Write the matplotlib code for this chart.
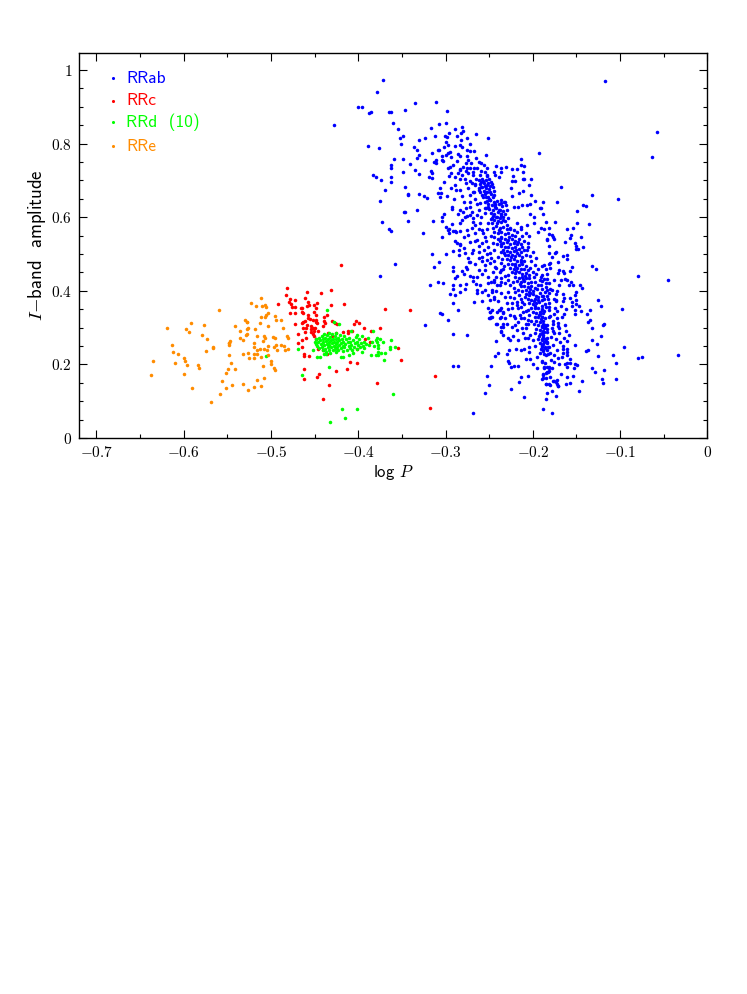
import numpy as np
import matplotlib
matplotlib.use('Agg')
import matplotlib.pyplot as plt

plt.rcParams['mathtext.fontset'] = 'cm'
plt.rcParams['font.family'] = ['cmss10', 'DejaVu Sans']
plt.rcParams['axes.unicode_minus'] = False

x_ticks = [-0.7, -0.6, -0.5, -0.4, -0.3, -0.2, -0.1, 0]
x_tick_labels = ['$-0.7$', '$-0.6$', '$-0.5$', '$-0.4$', '$-0.3$', '$-0.2$', '$-0.1$', '$0$']
y_ticks = [0, 0.2, 0.4, 0.6, 0.8, 1]
y_tick_labels = ['$0$', '$0.2$', '$0.4$', '$0.6$', '$0.8$', '$1$']

names = ['RRab', 'RRc', 'RRd  (10)', 'RRe']
colors = ['#0000ff', '#ff0000', '#00ff00', '#ff8c00']

# (log P, amplitude)
rrab = [
 (-.428,.851),(-.400,.899),(-.396,.899),(-.388,.883),(-.389,.794),(-.383,.715),(-.117,.970),(-.058,.832),
 (-.372,.973),(-.379,.941),(-.385,.885),(-.365,.887),(-.362,.887),(-.347,.892),(-.335,.909),(-.311,.912),
 (-.298,.888),(-.360,.855),(-.355,.840),(-.349,.822),(-.352,.814),(-.351,.800),(-.376,.787),(-.331,.811),
 (-.323,.814),(-.317,.842),(-.308,.854),(-.299,.857),(-.312,.820),(-.301,.822),(-.298,.819),(-.296,.830),
 (-.289,.840),(-.281,.845),(-.280,.834),(-.282,.828),(-.287,.821),(-.265,.827),(-.251,.814),(-.276,.814),
 (-.282,.811),(-.299,.803),(-.297,.796),(-.272,.799),(-.289,.793),(-.336,.792),(-.333,.782),(-.331,.768),
 (-.333,.762),(-.359,.757),(-.349,.757),(-.363,.742),(-.363,.734),(-.341,.744),(-.324,.755),(-.315,.775),
 (-.309,.782),(-.308,.782),(-.302,.790),(-.295,.777),(-.297,.775),(-.300,.769),(-.304,.767),(-.294,.763),
 (-.286,.771),(-.284,.766),(-.275,.767),(-.283,.796),(-.281,.790),(-.276,.782),(-.272,.781),(-.267,.780),
 (-.254,.770),(-.311,.755),(-.313,.751),(-.311,.746),(-.304,.755),(-.303,.753),(-.274,.755),(-.271,.746),
 (-.280,.737),(-.276,.735),(-.272,.733),(-.267,.735),(-.264,.733),(-.262,.751),(-.259,.748),(-.256,.742),
 (-.253,.733),(-.255,.723),(-.297,.735),(-.295,.737),(-.284,.730),(-.283,.728),(-.349,.723),(-.335,.727),
 (-.331,.718),(-.317,.725),(-.316,.719),(-.380,.710),(-.374,.700),(-.363,.708),(-.363,.695),(-.319,.708),
 (-.316,.707),(-.294,.719),(-.296,.713),(-.286,.719),(-.281,.714),(-.274,.719),(-.268,.714),(-.260,.714),
 (-.253,.714),(-.242,.739),(-.236,.735),(-.231,.737),(-.224,.730),(-.218,.730),(-.214,.759),(-.213,.742),
 (-.210,.740),(-.245,.723),(-.243,.714),(-.239,.710),(-.236,.722),(-.223,.713),(-.211,.723),(-.202,.705),
 (-.211,.705),(-.210,.704),(-.224,.699),(-.220,.699),(-.302,.696),(-.283,.705),(-.278,.703),(-.272,.699),
 (-.270,.692),(-.266,.687),(-.257,.699),(-.251,.694),(-.347,.683),(-.369,.675),(-.343,.663),(-.343,.660),
 (-.331,.662),(-.325,.658),(-.321,.653),(-.375,.643),(-.306,.679),(-.309,.667),(-.305,.667),(-.294,.680),
 (-.288,.675),(-.283,.675),(-.306,.654),(-.298,.657),(-.274,.678),(-.268,.669),(-.262,.678),(-.259,.683),
 (-.255,.685),(-.249,.685),(-.260,.669),(-.255,.669),(-.249,.669),(-.257,.656),(-.251,.656),(-.245,.660),
 (-.225,.678),(-.224,.657),(-.216,.667),(-.211,.672),(-.204,.687),(-.202,.660),(-.198,.644),(-.281,.658),
 (-.272,.660),(-.272,.642),(-.264,.637),(-.260,.639),(-.255,.642),(-.249,.646),(-.243,.637),(-.237,.639),
 (-.232,.642),(-.222,.628),(-.217,.628),(-.212,.632),(-.207,.633),(-.203,.635),(-.293,.628),(-.293,.622),
 (-.283,.619),(-.272,.628),(-.262,.619),(-.255,.624),(-.348,.613),(-.333,.619),(-.343,.589),(-.373,.587),
 (-.365,.569),(-.363,.562),(-.326,.558),(-.314,.589),(-.304,.546),(-.304,.601),(-.302,.610),(-.304,.590),
 (-.299,.574),(-.297,.565),(-.293,.581),(-.284,.583),(-.281,.592),(-.275,.603),(-.272,.606),(-.286,.608),
 (-.280,.615),(-.264,.606),(-.259,.601),(-.266,.578),(-.276,.565),(-.289,.563),(-.283,.563),(-.279,.547),
 (-.272,.533),(-.287,.530),(-.283,.524),(-.264,.538),(-.257,.556),(-.253,.569),(-.247,.583),(-.241,.601),
 (-.239,.619),(-.236,.610),(-.234,.592),(-.230,.578),(-.226,.569),(-.218,.583),(-.213,.574),(-.207,.578),
 (-.199,.583),(-.192,.624),(-.194,.560),(-.203,.610),(-.199,.601),(-.193,.775),
 # upper clump
 (-.253,.645),(-.249,.648),(-.245,.640),(-.241,.645),(-.237,.648),(-.233,.640),(-.251,.635),(-.247,.632),
 (-.243,.634),(-.239,.636),(-.235,.630),(-.231,.632),(-.254,.625),(-.250,.622),(-.246,.620),(-.242,.624),
 (-.238,.620),(-.234,.618),(-.230,.620),(-.248,.612),(-.244,.610),(-.240,.614),(-.236,.608),(-.232,.610),
 (-.246,.602),(-.242,.600),(-.238,.598),(-.234,.600),(-.244,.592),(-.240,.590),(-.236,.586),(-.232,.590),
 (-.228,.598),(-.248,.596),(-.262,.700),(-.258,.705),(-.254,.702),(-.250,.705),(-.260,.690),(-.256,.692),
 (-.252,.688),(-.248,.695),(-.258,.682),(-.254,.680),(-.250,.676),(-.246,.682),(-.256,.670),(-.252,.668),
 (-.248,.664),(-.244,.670),(-.258,.660),(-.254,.655),(-.250,.650),(-.246,.655),(-.262,.675),(-.266,.690),
 # middle
 (-.246,.572),(-.242,.576),(-.238,.570),(-.234,.574),(-.230,.568),(-.226,.572),(-.222,.565),(-.218,.560),
 (-.214,.568),(-.244,.560),(-.240,.556),(-.236,.560),(-.232,.554),(-.228,.558),(-.224,.552),(-.220,.550),
 (-.248,.550),(-.244,.545),(-.240,.540),(-.236,.545),(-.232,.542),(-.228,.538),(-.224,.540),(-.220,.535),
 (-.216,.542),(-.212,.548),(-.208,.556),(-.204,.550),(-.210,.535),(-.206,.530),(-.238,.534),(-.234,.530),
 (-.230,.532),(-.226,.528),(-.222,.530),(-.218,.526),(-.214,.528),(-.236,.522),(-.232,.518),(-.228,.520),
 (-.224,.516),(-.220,.518),(-.216,.514),(-.212,.518),(-.234,.510),(-.230,.508),(-.226,.506),(-.222,.508),
 (-.218,.504),(-.214,.506),(-.210,.510),(-.232,.498),(-.228,.496),(-.224,.498),(-.220,.494),(-.216,.496),
 (-.212,.492),(-.208,.498),(-.230,.486),(-.226,.484),(-.222,.486),(-.218,.482),(-.214,.484),(-.210,.480),
 (-.228,.474),(-.224,.472),(-.220,.474),(-.216,.470),(-.212,.472),(-.208,.468),(-.226,.462),(-.222,.460),
 (-.218,.462),(-.214,.458),(-.210,.460),(-.206,.456),(-.224,.450),(-.220,.448),(-.216,.450),(-.212,.446),
 (-.208,.448),(-.204,.444),(-.220,.438),(-.216,.436),(-.212,.438),(-.208,.434),(-.204,.436),(-.218,.426),
 (-.214,.424),(-.210,.426),(-.206,.422),(-.202,.424),
 # lower spine
 (-.214,.412),(-.210,.414),(-.206,.410),(-.202,.412),(-.198,.408),(-.212,.400),(-.208,.402),(-.204,.398),
 (-.200,.400),(-.208,.390),(-.204,.388),(-.200,.390),(-.196,.386),(-.206,.378),(-.202,.376),(-.198,.378),
 (-.194,.374),(-.204,.366),(-.200,.364),(-.196,.366),(-.202,.354),(-.198,.352),(-.194,.354),(-.190,.350),
 (-.200,.342),(-.196,.340),(-.192,.342),(-.198,.330),(-.194,.328),(-.190,.330),(-.196,.318),(-.192,.316),
 (-.188,.318),(-.194,.306),(-.190,.304),(-.186,.306),(-.196,.296),(-.192,.294),(-.188,.292),(-.184,.296),
 (-.192,.282),(-.188,.280),(-.194,.270),(-.190,.268),(-.186,.270),(-.192,.258),(-.188,.256),(-.184,.258),
 (-.190,.246),(-.186,.244),(-.182,.246),(-.188,.236),(-.192,.232),(-.185,.225),
 (-.205,.520),(-.200,.505),(-.196,.490),(-.202,.480),(-.198,.470),(-.194,.460),(-.200,.452),(-.196,.445),
 (-.192,.430),(-.198,.425),(-.194,.415),(-.190,.405),(-.192,.395),(-.188,.385),(-.190,.375),(-.194,.382),
 (-.186,.365),(-.190,.358),(-.262,.490),(-.258,.480),(-.252,.500),(-.248,.490),(-.244,.480),(-.240,.492),
 (-.236,.476),(-.242,.462),(-.246,.452),(-.238,.450),(-.234,.458),(-.232,.440),(-.228,.430),(-.236,.436),
 (-.242,.438),(-.226,.416),(-.222,.408),(-.220,.396),(-.216,.388),(-.222,.380),(-.218,.370),(-.214,.378),
 (-.210,.365),(-.214,.355),(-.208,.345),(-.204,.335),(-.210,.325),(-.206,.322),(-.202,.318),(-.208,.310),
 # left side
 (-.347,.613),(-.296,.568),(-.296,.556),(-.288,.561),(-.291,.563),(-.289,.534),(-.283,.526),(-.291,.509),
 (-.315,.501),(-.300,.500),(-.307,.478),(-.313,.466),(-.358,.472),(-.375,.440),(-.292,.465),(-.292,.454),
 (-.289,.436),(-.287,.440),(-.281,.455),(-.279,.447),(-.277,.466),(-.276,.458),(-.273,.479),(-.272,.479),
 (-.285,.511),(-.279,.515),(-.285,.497),(-.278,.502),(-.318,.417),(-.309,.425),(-.303,.420),(-.292,.416),
 (-.292,.404),(-.284,.415),(-.277,.418),(-.278,.405),(-.295,.391),(-.289,.389),(-.284,.396),(-.291,.367),
 (-.286,.349),(-.306,.341),(-.304,.338),(-.297,.320),(-.323,.307),(-.292,.282),(-.275,.280),(-.267,.369),
 (-.258,.373),(-.268,.438),(-.264,.437),(-.268,.427),(-.265,.418),(-.264,.393),(-.264,.402),(-.258,.398),
 (-.255,.402),(-.251,.389),(-.247,.402),(-.245,.379),(-.251,.352),(-.249,.343),(-.247,.330),(-.249,.327),
 (-.239,.348),(-.236,.352),(-.237,.330),(-.234,.339),(-.234,.311),(-.242,.311),(-.236,.302),(-.237,.289),
 (-.234,.280),(-.262,.456),(-.255,.456),(-.251,.438),(-.245,.429),(-.241,.416),(-.237,.425),(-.270,.502),
 (-.262,.506),(-.258,.493),(-.253,.484),(-.255,.470),(-.249,.475),(-.243,.466),(-.237,.456),(-.266,.534),
 (-.258,.529),(-.251,.520),(-.245,.511),(-.249,.502),(-.266,.556),(-.258,.565),(-.251,.583),(-.255,.547),
 (-.268,.588),(-.260,.583),(-.278,.601),(-.270,.615),(-.255,.611),(-.247,.597),(-.239,.565),(-.237,.543),
 (-.274,.552),
 # bottom
 (-.268,.067),(-.188,.080),(-.178,.067),(-.255,.123),(-.225,.132),(-.210,.112),(-.250,.145),(-.252,.168),
 (-.292,.195),(-.286,.195),(-.248,.195),(-.216,.151),(-.214,.166),(-.205,.168),(-.185,.105),(-.184,.121),
 (-.178,.128),(-.174,.115),(-.185,.147),(-.181,.146),(-.177,.156),(-.173,.153),(-.171,.142),(-.188,.162),
 (-.188,.173),(-.185,.176),(-.183,.180),(-.187,.191),(-.182,.192),(-.147,.128),(-.229,.210),(-.225,.194),
 (-.222,.196),(-.217,.195),(-.227,.203),(-.200,.201),(-.208,.216),(-.203,.216),(-.195,.221),(-.190,.207),
 (-.243,.224),(-.240,.232),(-.230,.228),(-.227,.239),(-.219,.243),(-.213,.239),(-.210,.243),(-.204,.248),
 (-.242,.263),(-.228,.271),(-.226,.266),(-.223,.277),(-.217,.266),(-.234,.301),(-.237,.292),(-.230,.311),
 (-.224,.301),(-.218,.293),(-.209,.271),(-.205,.273),(-.203,.280),(-.197,.284),(-.211,.284),(-.208,.298),
 (-.206,.311),(-.250,.327),(-.248,.328),(-.241,.311),(-.238,.325),(-.232,.325),(-.226,.334),(-.220,.325),
 (-.217,.316),(-.213,.325),(-.215,.334),(-.211,.343),(-.217,.352),(-.249,.343),(-.247,.348),(-.241,.343),
 (-.238,.349),(-.234,.343),(-.224,.352),(-.218,.361),(-.212,.370),(-.232,.384),(-.226,.384),(-.224,.366),
 (-.236,.393),(-.245,.384),(-.249,.375),(-.247,.398),(-.251,.420),(-.245,.425),(-.238,.416),(-.232,.420),
 (-.228,.398),
 # right side
 (-.064,.763),(-.168,.682),(-.132,.661),(-.102,.650),(-.172,.641),(-.188,.641),(-.143,.634),(-.139,.631),
 (-.149,.617),(-.191,.625),(-.188,.610),(-.175,.588),(-.185,.588),(-.149,.583),(-.136,.581),(-.154,.572),
 (-.161,.568),(-.181,.570),(-.187,.569),(-.191,.572),(-.182,.554),(-.178,.552),(-.176,.540),(-.177,.545),
 (-.184,.542),(-.184,.538),(-.156,.551),(-.158,.544),(-.145,.545),(-.163,.533),(-.152,.530),(-.150,.522),
 (-.150,.514),(-.148,.513),(-.142,.519),(-.181,.522),(-.181,.502),(-.175,.504),(-.173,.506),(-.178,.491),
 (-.165,.494),(-.161,.496),(-.161,.486),(-.171,.477),(-.132,.468),(-.128,.458),(-.155,.465),(-.158,.454),
 (-.170,.456),(-.165,.455),(-.164,.449),(-.171,.448),(-.180,.476),(-.181,.473),(-.180,.463),(-.185,.458),
 (-.187,.470),(-.189,.467),(-.184,.446),(-.189,.443),(-.191,.438),(-.080,.439),(-.045,.428),(-.184,.431),
 (-.187,.431),(-.189,.427),(-.185,.420),(-.182,.420),(-.191,.416),(-.168,.430),(-.163,.431),(-.161,.429),
 (-.156,.424),(-.159,.417),(-.154,.415),(-.146,.416),(-.144,.407),(-.180,.406),(-.185,.411),(-.184,.402),
 (-.181,.395),(-.186,.398),(-.189,.387),(-.184,.387),(-.187,.379),(-.183,.379),(-.166,.390),(-.164,.381),
 (-.165,.373),(-.150,.397),(-.152,.388),(-.150,.376),(-.176,.379),(-.174,.376),(-.173,.372),(-.155,.369),
 (-.155,.360),(-.150,.363),(-.147,.359),(-.125,.374),(-.122,.360),(-.098,.351),(-.181,.366),(-.181,.357),
 (-.185,.357),(-.175,.354),(-.182,.349),(-.162,.350),(-.135,.347),(-.145,.346),(-.152,.349),(-.152,.338),
 (-.164,.338),(-.167,.330),(-.176,.336),(-.180,.332),(-.182,.330),(-.186,.325),(-.190,.348),(-.188,.339),
 (-.190,.330),(-.192,.337),(-.138,.338),(-.137,.316),(-.134,.320),(-.132,.298),(-.120,.308),(-.118,.311),
 (-.172,.327),(-.171,.313),(-.171,.305),(-.177,.319),(-.177,.311),(-.163,.306),(-.188,.311),(-.186,.302),
 (-.190,.302),(-.184,.307),(-.170,.298),(-.177,.292),(-.170,.286),(-.162,.290),(-.159,.279),(-.176,.284),
 (-.179,.275),(-.122,.276),(-.132,.265),(-.127,.255),(-.164,.272),(-.169,.260),(-.161,.263),(-.165,.251),
 (-.165,.243),(-.152,.252),(-.177,.253),(-.184,.289),(-.190,.284),(-.188,.275),(-.184,.271),(-.190,.266),
 (-.187,.262),(-.184,.262),(-.190,.253),(-.186,.248),(-.183,.248),(-.191,.242),(-.188,.239),(-.184,.239),
 (-.180,.230),(-.187,.228),(-.183,.228),(-.161,.242),(-.161,.233),(-.161,.225),(-.165,.230),(-.167,.219),
 (-.171,.218),(-.137,.239),(-.139,.237),(-.095,.246),(-.108,.226),(-.125,.224),(-.034,.226),(-.075,.221),
 (-.080,.218),(-.105,.203),(-.119,.186),(-.129,.178),(-.132,.191),(-.158,.216),(-.158,.203),(-.161,.205),
 (-.163,.200),(-.161,.193),(-.153,.190),(-.152,.201),(-.149,.198),(-.179,.212),(-.176,.206),(-.186,.205),
 (-.190,.209),(-.187,.194),(-.184,.192),(-.181,.189),(-.181,.183),(-.184,.178),(-.188,.171),(-.185,.164),
 (-.189,.161),(-.180,.165),(-.161,.166),(-.154,.169),(-.144,.154),(-.121,.159),(-.120,.150),(-.105,.160),
 (-.176,.156),(-.172,.157),(-.172,.148),(-.185,.146),(-.180,.144),(-.171,.141),(-.162,.148),(-.158,.149),
 # filling the densest parts
 (-.237,.527),(-.219,.511),(-.225,.491),(-.213,.477),(-.219,.455),(-.209,.441),(-.215,.419),(-.203,.405),
 (-.209,.383),(-.199,.371),(-.205,.349),(-.193,.335),(-.199,.311),(-.187,.299),(-.193,.277),(-.185,.263),
 (-.233,.503),(-.221,.467),(-.211,.431),(-.203,.393),(-.197,.359),(-.191,.323),(-.187,.287),(-.189,.251),
 (-.243,.627),(-.237,.603),(-.251,.627),(-.241,.583),(-.255,.663),(-.247,.689),(-.259,.697),(-.253,.711),
 (-.227,.545),(-.217,.533),(-.241,.528),(-.207,.512),(-.237,.505),(-.203,.494),(-.235,.487),(-.203,.462),
 (-.233,.467),(-.199,.437),(-.229,.444),(-.195,.404),(-.223,.423),(-.193,.369),(-.217,.403),(-.187,.344),
 (-.277,.748),(-.265,.762),(-.287,.752),(-.291,.742),(-.269,.724),(-.277,.726),(-.259,.726),(-.289,.708),
 (-.265,.705),(-.277,.692),(-.289,.688),(-.267,.668),(-.279,.640),(-.266,.650),(-.290,.650),(-.277,.625),
 (-.268,.598),(-.262,.568),(-.270,.570),(-.262,.522),(-.254,.534),(-.268,.512),(-.246,.530),(-.256,.510),
 (-.274,.488),(-.266,.472),(-.258,.445),(-.248,.424),(-.272,.440),(-.260,.415),(-.242,.400),(-.240,.372),
 (-.230,.366),(-.228,.350),(-.222,.332),(-.220,.308),(-.212,.300),(-.200,.266),(-.198,.250),(-.204,.235),
 (-.172,.400),(-.170,.415),(-.176,.428),(-.168,.360),(-.172,.345),(-.178,.402),(-.174,.392),(-.158,.380),
 (-.178,.300),(-.174,.270),(-.172,.240),(-.176,.225),(-.170,.200),(-.178,.190),(-.168,.175),(-.195,.190),
]

rrc = [
 (-.420,.470),(-.482,.407),(-.483,.388),(-.459,.398),(-.443,.393),(-.431,.401),(-.461,.380),(-.478,.379),
 (-.472,.375),(-.479,.370),(-.458,.369),(-.492,.363),(-.477,.364),(-.476,.355),(-.473,.355),(-.459,.360),
 (-.457,.361),(-.451,.362),(-.447,.367),(-.431,.361),(-.416,.363),(-.449,.353),(-.466,.352),(-.465,.352),
 (-.369,.350),(-.341,.349),(-.451,.343),(-.478,.341),(-.472,.340),(-.464,.342),(-.463,.341),(-.449,.334),
 (-.458,.333),(-.436,.333),(-.439,.330),(-.458,.327),(-.455,.324),(-.452,.322),(-.449,.322),(-.461,.318),
 (-.463,.314),(-.465,.312),(-.473,.311),(-.449,.315),(-.447,.312),(-.439,.317),(-.438,.312),(-.430,.317),
 (-.424,.311),(-.427,.313),(-.403,.319),(-.399,.312),(-.405,.309),(-.459,.307),(-.463,.300),(-.460,.300),
 (-.454,.305),(-.452,.300),(-.454,.295),(-.450,.298),(-.461,.289),(-.454,.289),(-.451,.292),(-.452,.283),
 (-.451,.277),(-.469,.282),(-.460,.273),(-.464,.266),(-.469,.257),(-.448,.269),(-.464,.246),(-.446,.290),
 (-.441,.303),(-.435,.284),(-.394,.298),(-.386,.291),(-.375,.300),(-.412,.292),(-.417,.287),(-.412,.286),
 (-.407,.291),(-.425,.284),(-.430,.277),(-.392,.268),(-.387,.260),(-.401,.243),(-.355,.244),(-.351,.212),
 (-.462,.227),(-.462,.222),(-.456,.224),(-.409,.206),(-.401,.204),(-.462,.188),(-.425,.183),(-.413,.187),
 (-.445,.173),(-.447,.166),(-.462,.159),(-.433,.145),(-.378,.149),(-.312,.169),(-.440,.105),(-.318,.081),
 (-.446,.241),(-.440,.239),(-.436,.228),(-.425,.244),
]

rrd = [
 (-.436,.348),(-.428,.314),(-.422,.309),(-.408,.291),(-.383,.291),(-.402,.279),(-.396,.276),(-.389,.273),
 (-.379,.271),(-.375,.269),(-.362,.265),(-.372,.260),(-.380,.265),(-.378,.260),(-.388,.252),(-.364,.246),
 (-.364,.241),(-.358,.246),(-.393,.244),(-.396,.234),(-.386,.226),(-.369,.231),(-.380,.226),(-.377,.225),
 (-.377,.234),(-.374,.231),(-.377,.244),(-.377,.253),(-.370,.212),(-.469,.241),(-.452,.238),(-.447,.221),
 (-.444,.221),(-.439,.227),(-.437,.227),(-.420,.219),(-.418,.221),(-.411,.225),(-.406,.230),(-.434,.194),
 (-.464,.171),(-.360,.120),(-.419,.080),(-.402,.078),(-.415,.053),(-.432,.044),(-.506,.222),
 # blob
 (-.450,.262),(-.449,.255),(-.448,.268),(-.447,.250),(-.446,.260),(-.445,.272),(-.445,.244),(-.444,.265),
 (-.443,.256),(-.442,.278),(-.442,.248),(-.441,.238),(-.441,.268),(-.440,.260),(-.439,.283),(-.439,.252),
 (-.438,.272),(-.438,.243),(-.437,.264),(-.437,.234),(-.436,.256),(-.436,.279),(-.435,.248),(-.435,.270),
 (-.434,.262),(-.434,.286),(-.433,.240),(-.433,.254),(-.432,.274),(-.432,.232),(-.431,.266),(-.431,.246),
 (-.430,.258),(-.430,.282),(-.429,.238),(-.429,.270),(-.428,.250),(-.428,.262),(-.427,.276),(-.427,.242),
 (-.426,.256),(-.426,.268),(-.425,.234),(-.425,.284),(-.424,.248),(-.424,.262),(-.423,.272),(-.423,.240),
 (-.422,.254),(-.422,.266),(-.421,.280),(-.420,.244),(-.420,.258),(-.419,.270),(-.418,.250),(-.418,.236),
 (-.417,.262),(-.416,.276),(-.416,.246),(-.415,.256),(-.414,.268),(-.413,.240),(-.412,.260),(-.411,.250),
 (-.411,.272),(-.410,.244),(-.409,.262),(-.408,.254),(-.407,.238),(-.406,.266),(-.405,.248),(-.404,.258),
 (-.403,.274),(-.402,.242),(-.401,.262),(-.400,.252),(-.399,.268),(-.398,.246),(-.397,.258),(-.395,.250),
 (-.393,.262),(-.391,.256),(-.384,.262),(-.382,.250),
]

rre = [
 (-.560,.348),(-.511,.381),(-.523,.368),(-.517,.358),(-.510,.359),(-.507,.361),(-.506,.357),(-.504,.340),
 (-.506,.334),(-.507,.330),(-.511,.328),(-.496,.331),(-.494,.321),(-.489,.322),(-.530,.321),(-.528,.315),
 (-.527,.314),(-.513,.312),(-.541,.305),(-.526,.299),(-.528,.296),(-.518,.295),(-.503,.304),(-.486,.299),
 (-.535,.290),(-.527,.283),(-.529,.280),(-.536,.273),(-.532,.266),(-.516,.278),(-.508,.276),(-.507,.272),
 (-.498,.274),(-.496,.272),(-.482,.276),(-.480,.271),(-.509,.263),(-.519,.257),(-.520,.248),(-.494,.252),
 (-.497,.247),(-.489,.254),(-.485,.249),(-.484,.238),(-.481,.242),(-.493,.240),(-.504,.250),(-.508,.242),
 (-.505,.240),(-.516,.239),(-.513,.241),(-.526,.231),(-.532,.228),(-.520,.228),(-.516,.228),(-.504,.226),
 (-.525,.218),(-.519,.217),(-.511,.221),(-.548,.226),(-.548,.257),(-.547,.263),(-.548,.259),(-.548,.254),
 (-.567,.247),(-.567,.245),(-.574,.236),(-.573,.270),(-.579,.280),(-.577,.307),(-.592,.312),(-.597,.296),
 (-.594,.289),(-.619,.300),(-.614,.254),(-.612,.235),(-.606,.229),(-.600,.217),(-.598,.210),(-.610,.203),
 (-.596,.198),(-.584,.198),(-.583,.191),(-.635,.209),(-.637,.172),(-.600,.175),(-.590,.135),(-.569,.098),
 (-.559,.119),(-.556,.156),(-.551,.135),(-.545,.143),(-.551,.177),(-.549,.187),(-.546,.204),(-.541,.187),
 (-.532,.146),(-.526,.130),(-.520,.139),(-.511,.140),(-.516,.158),(-.508,.164),(-.509,.197),(-.500,.208),
 (-.500,.202),(-.497,.189),(-.495,.184),
]

fig = plt.figure(figsize=(7.47, 9.94), dpi=100)
ax = fig.add_axes([79 / 747, 1 - 438 / 994, (707.4 - 79) / 747, (438 - 52.7) / 994])

series = [rrab, rrc, rrd, rre]
for pts, c in zip(series, colors):
    pts = np.array(pts)
    ax.scatter(pts[:, 0], pts[:, 1], s=6.5, color=c, linewidths=0)

# legend written by hand, like the original
leg_y = [0.978, 0.916, 0.859, 0.793]
for name, c, yy in zip(names, colors, leg_y):
    ax.scatter([-0.681], [yy], s=5, color=c, linewidths=0)
    ax.text(-0.666, yy, name, color=c, fontsize=12.5, va='center', ha='left')

ax.set_xlim(-0.72, 0)
ax.set_ylim(0, 1.047)
ax.set_xticks(x_ticks)
ax.set_xticklabels(x_tick_labels, fontsize=11)
ax.set_yticks(y_ticks)
ax.set_yticklabels(y_tick_labels, fontsize=11)
ax.set_xticks(np.arange(-0.7, 0, 0.05), minor=True)
ax.set_yticks(np.arange(0, 1.04, 0.05), minor=True)
ax.tick_params(which='major', direction='in', length=5.5, width=0.8, top=True, right=True, pad=5)
ax.tick_params(which='minor', direction='in', length=2.8, width=0.8, top=True, right=True)
for sp in ax.spines.values():
    sp.set_linewidth(1)

ax.set_xlabel(r'log $P$', fontsize=12, labelpad=2)
ax.set_ylabel(r'$I$$-$band  amplitude', fontsize=13.5, labelpad=2)

fig.savefig('out.png', dpi=100)
